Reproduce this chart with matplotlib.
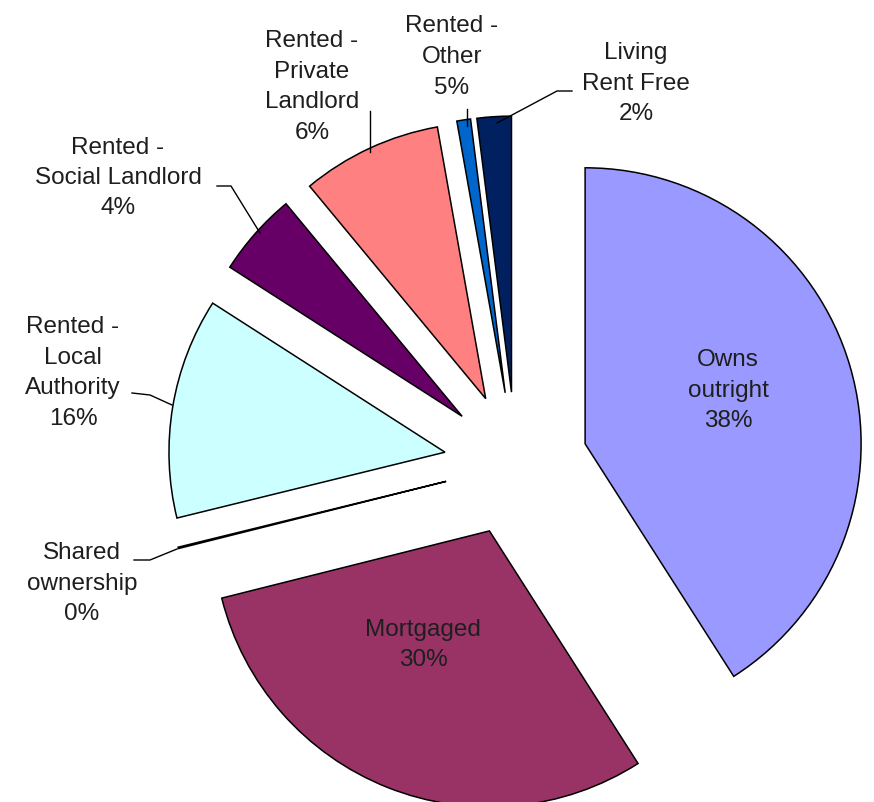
import matplotlib.pyplot as plt

categories = ['Owns\noutright', 'Mortgaged', 'Shared\nownership', 'Rented -\nLocal\nAuthority',
              'Rented -\nSocial Landlord', 'Rented -\nPrivate\nLandlord', 'Rented -\nOther',
              'Living\nRent Free']
shares = [40.9, 30.1, 0.08, 12.9, 4.9, 8.2, 0.8, 2.0]   # slice sizes as drawn
label_pct = [38, 30, 0, 16, 4, 6, 5, 2]                  # percentages printed on the chart
colors = ['#9999FF', '#993366', '#FFFFCC', '#CCFFFF', '#660066', '#FF8080', '#0066CC', '#002060']

# label placement (pixels, y down) and leader lines
label_xy = [(728, 391), (423, 645), (82, 584), (73, 373), (118, 178), (312, 87), (452, 57), (636, 84)]
leaders = {
    2: [(134, 561), (150, 561), (177, 550)],
    3: [(132, 394), (150, 396), (172, 406)],
    4: [(217, 187), (231, 187), (260, 234)],
    5: [(370, 112), (370, 153)],
    6: [(467, 110), (467, 127)],
    7: [(572, 92), (557, 92), (497, 124)],
}

fig = plt.figure(figsize=(8.74, 8.03), dpi=100)
ax = fig.add_axes([0, 0, 1, 1])
ax.pie(shares, colors=colors, radius=276, center=(516, 465), explode=[72] * len(shares),
       startangle=-90, counterclock=True,
       wedgeprops=dict(edgecolor='black', linewidth=1.1))
ax.set_xlim(0, 874)
ax.set_ylim(803, 0)
ax.axis('off')

for i, (name, pct) in enumerate(zip(categories, label_pct)):
    x, y = label_xy[i]
    ax.text(x, y, f'{name}\n{pct}%', ha='center', va='center', fontsize=17.5,
            family='Liberation Sans', color='#1e1e1e', linespacing=1.5)
    if i in leaders:
        xs, ys = zip(*leaders[i])
        ax.plot(xs, ys, color='black', lw=1.0)

fig.savefig('out.png', dpi=100)
